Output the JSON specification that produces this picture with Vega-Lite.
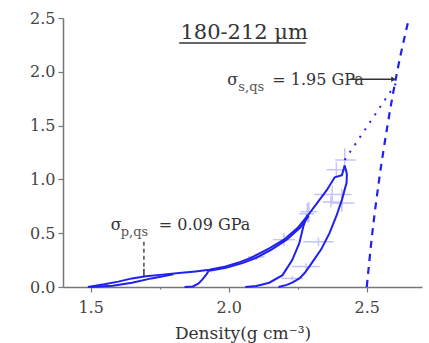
{
  "$schema": "https://vega.github.io/schema/vega-lite/v6.json",
  "width": 359,
  "height": 269,
  "autosize": {"type": "none"},
  "padding": {"left": 63, "top": 18, "right": 7, "bottom": 56},
  "background": "white",
  "config": {"view": {"stroke": null}, "font": "DejaVu Serif"},
  "datasets": {
    "curves": [
      {"s": "load", "o": 1, "d": 1.49, "p": 0},
      {"s": "load", "o": 2, "d": 1.55, "p": 0.025},
      {"s": "load", "o": 3, "d": 1.6, "p": 0.05},
      {"s": "load", "o": 4, "d": 1.65, "p": 0.08},
      {"s": "load", "o": 5, "d": 1.7, "p": 0.1},
      {"s": "load", "o": 6, "d": 1.76, "p": 0.115},
      {"s": "load", "o": 7, "d": 1.82, "p": 0.13},
      {"s": "load", "o": 8, "d": 1.88, "p": 0.145},
      {"s": "load", "o": 9, "d": 1.93, "p": 0.16},
      {"s": "load", "o": 10, "d": 1.98, "p": 0.185},
      {"s": "load", "o": 11, "d": 2.04, "p": 0.23},
      {"s": "load", "o": 12, "d": 2.08, "p": 0.27},
      {"s": "load", "o": 13, "d": 2.147, "p": 0.36},
      {"s": "load", "o": 14, "d": 2.2, "p": 0.44},
      {"s": "load", "o": 15, "d": 2.25, "p": 0.55},
      {"s": "load", "o": 16, "d": 2.285, "p": 0.66},
      {"s": "load", "o": 17, "d": 2.32, "p": 0.78},
      {"s": "load", "o": 18, "d": 2.355, "p": 0.9},
      {"s": "load", "o": 19, "d": 2.384, "p": 1.02},
      {"s": "load", "o": 20, "d": 2.41, "p": 1.04},
      {"s": "load", "o": 21, "d": 2.42, "p": 1.13},
      {"s": "start", "o": 1, "d": 1.5, "p": 0},
      {"s": "start", "o": 2, "d": 1.58, "p": 0.012},
      {"s": "start", "o": 3, "d": 1.65, "p": 0.04},
      {"s": "start", "o": 4, "d": 1.72, "p": 0.08},
      {"s": "start", "o": 5, "d": 1.8, "p": 0.118},
      {"s": "unload1", "o": 1, "d": 1.93, "p": 0.16},
      {"s": "unload1", "o": 2, "d": 1.92, "p": 0.12},
      {"s": "unload1", "o": 3, "d": 1.905, "p": 0.07},
      {"s": "unload1", "o": 4, "d": 1.89, "p": 0.03},
      {"s": "unload1", "o": 5, "d": 1.87, "p": 0.005},
      {"s": "unload1", "o": 6, "d": 1.84, "p": 0},
      {"s": "reload1", "o": 1, "d": 1.93, "p": 0.152},
      {"s": "reload1", "o": 2, "d": 1.99, "p": 0.178},
      {"s": "reload1", "o": 3, "d": 2.05, "p": 0.222},
      {"s": "reload1", "o": 4, "d": 2.1, "p": 0.272},
      {"s": "reload1", "o": 5, "d": 2.155, "p": 0.348},
      {"s": "reload1", "o": 6, "d": 2.21, "p": 0.44},
      {"s": "reload1", "o": 7, "d": 2.26, "p": 0.555},
      {"s": "reload1", "o": 8, "d": 2.29, "p": 0.66},
      {"s": "unload2", "o": 1, "d": 2.285, "p": 0.67},
      {"s": "unload2", "o": 2, "d": 2.27, "p": 0.56},
      {"s": "unload2", "o": 3, "d": 2.256, "p": 0.41},
      {"s": "unload2", "o": 4, "d": 2.23, "p": 0.25},
      {"s": "unload2", "o": 5, "d": 2.195, "p": 0.11},
      {"s": "unload2", "o": 6, "d": 2.147, "p": 0.04},
      {"s": "unload2", "o": 7, "d": 2.1, "p": 0.01},
      {"s": "unload2", "o": 8, "d": 2.06, "p": 0},
      {"s": "unload3", "o": 1, "d": 2.42, "p": 1.13},
      {"s": "unload3", "o": 2, "d": 2.428, "p": 1.05},
      {"s": "unload3", "o": 3, "d": 2.427, "p": 0.97},
      {"s": "unload3", "o": 4, "d": 2.41, "p": 0.81},
      {"s": "unload3", "o": 5, "d": 2.39, "p": 0.66},
      {"s": "unload3", "o": 6, "d": 2.365, "p": 0.5},
      {"s": "unload3", "o": 7, "d": 2.335, "p": 0.35},
      {"s": "unload3", "o": 8, "d": 2.3, "p": 0.22},
      {"s": "unload3", "o": 9, "d": 2.275, "p": 0.13},
      {"s": "unload3", "o": 10, "d": 2.256, "p": 0.08},
      {"s": "unload3", "o": 11, "d": 2.23, "p": 0.04},
      {"s": "unload3", "o": 12, "d": 2.21, "p": 0.02},
      {"s": "unload3", "o": 13, "d": 2.18, "p": 0}
    ],
    "dashed": [
      {"o": 1, "d": 2.5, "p": 0},
      {"o": 2, "d": 2.52, "p": 0.5},
      {"o": 3, "d": 2.545, "p": 1.0},
      {"o": 4, "d": 2.575, "p": 1.5},
      {"o": 5, "d": 2.61, "p": 2.0},
      {"o": 6, "d": 2.653, "p": 2.5}
    ],
    "dotted": [
      {"o": 1, "d": 2.42, "p": 1.18},
      {"o": 2, "d": 2.605, "p": 1.89}
    ],
    "errors": [
      {"d": 2.42, "p": 1.18, "dlo": 2.385, "dhi": 2.46, "plo": 1.08, "phi": 1.29},
      {"d": 2.39, "p": 1.09, "dlo": 2.355, "dhi": 2.43, "plo": 1.02, "phi": 1.16},
      {"d": 2.41, "p": 0.78, "dlo": 2.37, "dhi": 2.455, "plo": 0.7, "phi": 0.91},
      {"d": 2.375, "p": 0.86, "dlo": 2.31, "dhi": 2.445, "plo": 0.78, "phi": 0.94},
      {"d": 2.37, "p": 0.79, "dlo": 2.34, "dhi": 2.4, "plo": 0.74, "phi": 0.84},
      {"d": 2.285, "p": 0.68, "dlo": 2.256, "dhi": 2.31, "plo": 0.6, "phi": 0.78},
      {"d": 2.29, "p": 0.7, "dlo": 2.26, "dhi": 2.32, "plo": 0.6, "phi": 0.79},
      {"d": 2.325, "p": 0.42, "dlo": 2.27, "dhi": 2.38, "plo": 0.38, "phi": 0.46},
      {"d": 2.28, "p": 0.19, "dlo": 2.23, "dhi": 2.33, "plo": 0.16, "phi": 0.22},
      {"d": 2.23, "p": 0.08, "dlo": 2.19, "dhi": 2.27, "plo": 0.06, "phi": 0.1},
      {"d": 2.2, "p": 0.44, "dlo": 2.16, "dhi": 2.24, "plo": 0.38, "phi": 0.5},
      {"d": 2.1, "p": 0.28, "dlo": 2.07, "dhi": 2.13, "plo": 0.25, "phi": 0.31}
    ],
    "texts": [
      {"k": "title", "t": "180-212 μm", "d": 2.056, "p": 2.36},
      {"k": "sig", "t": "σ", "d": 1.995, "p": 1.924},
      {"k": "sub", "t": "s,qs", "d": 2.035, "p": 1.855},
      {"k": "rest", "t": "= 1.95 GPa", "d": 2.158, "p": 1.924},
      {"k": "sig", "t": "σ", "d": 1.573, "p": 0.576},
      {"k": "sub", "t": "p,qs", "d": 1.609, "p": 0.507},
      {"k": "rest", "t": "= 0.09 GPa", "d": 1.747, "p": 0.576}
    ]
  },
  "layer": [
    {
      "data": {"name": "errors"},
      "mark": {"type": "rule", "color": "#c4c4f6", "strokeWidth": 1.5},
      "encoding": {
        "x": {"field": "dlo", "type": "quantitative", "scale": {"domain": [1.4, 2.7], "nice": false, "zero": false},
          "axis": {"values": [1.5, 1.75, 2.0, 2.25, 2.5], "labelExpr": "datum.value * 2 % 1 == 0 ? format(datum.value, '.1f') : ''", "grid": false,
            "title": "Density(g cm⁻³)", "titleFont": "DejaVu Serif", "titleFontSize": 17, "titleFontWeight": "normal", "titleColor": "#333", "titlePadding": 10,
            "labelFont": "DejaVu Serif", "labelFontSize": 16, "labelColor": "#444", "labelPadding": 7,
            "domainColor": "#777", "domainWidth": 1.5, "tickColor": "#777", "tickWidth": 1.2,
            "tickSize": {"condition": {"test": "datum.value * 2 % 1 != 0", "value": 2}, "value": 5}}},
        "x2": {"field": "dhi"},
        "y": {"field": "p", "type": "quantitative", "scale": {"domain": [0, 2.5], "nice": false},
          "axis": {"values": [0, 0.25, 0.5, 0.75, 1.0, 1.25, 1.5, 1.75, 2.0, 2.25, 2.5], "labelExpr": "datum.value * 2 % 1 == 0 ? format(datum.value, '.1f') : ''", "grid": false, "title": null,
            "labelFont": "DejaVu Serif", "labelFontSize": 16, "labelColor": "#444", "labelPadding": 3,
            "domainColor": "#777", "domainWidth": 1.5, "tickColor": "#777", "tickWidth": 1.2,
            "tickSize": {"condition": {"test": "datum.value * 2 % 1 != 0", "value": 2}, "value": 5}}}
      }
    },
    {
      "data": {"name": "errors"},
      "mark": {"type": "rule", "color": "#c4c4f6", "strokeWidth": 1.5},
      "encoding": {
        "x": {"field": "d", "type": "quantitative"},
        "y": {"field": "plo", "type": "quantitative"},
        "y2": {"field": "phi"}
      }
    },
    {
      "data": {"name": "curves"},
      "mark": {"type": "line", "color": "#2020f0", "strokeWidth": 2},
      "encoding": {
        "x": {"field": "d", "type": "quantitative"},
        "y": {"field": "p", "type": "quantitative"},
        "detail": {"field": "s"},
        "order": {"field": "o"}
      }
    },
    {
      "data": {"name": "dashed"},
      "mark": {"type": "line", "color": "#2020f0", "strokeWidth": 2.2, "strokeDash": [7, 6], "interpolate": "monotone"},
      "encoding": {
        "x": {"field": "d", "type": "quantitative"},
        "y": {"field": "p", "type": "quantitative"},
        "order": {"field": "o"}
      }
    },
    {
      "data": {"name": "dotted"},
      "mark": {"type": "line", "color": "#2020f0", "strokeWidth": 2, "strokeDash": [2, 7]},
      "encoding": {
        "x": {"field": "d", "type": "quantitative"},
        "y": {"field": "p", "type": "quantitative"},
        "order": {"field": "o"}
      }
    },
    {
      "data": {"values": [{"d1": 1.821, "d2": 2.279, "p": 2.268}]},
      "mark": {"type": "rule", "color": "#333", "strokeWidth": 1.5},
      "encoding": {
        "x": {"field": "d1", "type": "quantitative"},
        "x2": {"field": "d2"},
        "y": {"field": "p", "type": "quantitative"}
      }
    },
    {
      "data": {"values": [{"d1": 2.44, "d2": 2.595, "p": 1.93}]},
      "mark": {"type": "rule", "color": "#333", "strokeWidth": 1.5},
      "encoding": {
        "x": {"field": "d1", "type": "quantitative"},
        "x2": {"field": "d2"},
        "y": {"field": "p", "type": "quantitative"}
      }
    },
    {
      "data": {"values": [{"d": 2.597, "p": 1.93}]},
      "mark": {"type": "point", "shape": "triangle-right", "filled": true, "color": "#333", "size": 30, "opacity": 1},
      "encoding": {
        "x": {"field": "d", "type": "quantitative"},
        "y": {"field": "p", "type": "quantitative"}
      }
    },
    {
      "data": {"values": [{"d": 1.693, "p1": 0.42, "p2": 0.17}]},
      "mark": {"type": "rule", "color": "#333", "strokeWidth": 1.3, "strokeDash": [4, 3]},
      "encoding": {
        "x": {"field": "d", "type": "quantitative"},
        "y": {"field": "p1", "type": "quantitative"},
        "y2": {"field": "p2"}
      }
    },
    {
      "data": {"values": [{"d": 1.693, "p1": 0.17, "p2": 0.1}]},
      "mark": {"type": "rule", "color": "#333", "strokeWidth": 1.5},
      "encoding": {
        "x": {"field": "d", "type": "quantitative"},
        "y": {"field": "p1", "type": "quantitative"},
        "y2": {"field": "p2"}
      }
    },
    {
      "data": {"name": "texts"},
      "transform": [{"filter": "datum.k == 'title'"}],
      "mark": {"type": "text", "font": "DejaVu Serif", "fontSize": 21, "color": "#333", "align": "center", "baseline": "middle"},
      "encoding": {
        "x": {"field": "d", "type": "quantitative"},
        "y": {"field": "p", "type": "quantitative"},
        "text": {"field": "t"}
      }
    },
    {
      "data": {"name": "texts"},
      "transform": [{"filter": "datum.k == 'sig'"}],
      "mark": {"type": "text", "font": "DejaVu Serif", "fontSize": 16, "color": "#333", "align": "left", "baseline": "middle"},
      "encoding": {
        "x": {"field": "d", "type": "quantitative"},
        "y": {"field": "p", "type": "quantitative"},
        "text": {"field": "t"}
      }
    },
    {
      "data": {"name": "texts"},
      "transform": [{"filter": "datum.k == 'sub'"}],
      "mark": {"type": "text", "font": "DejaVu Serif", "fontSize": 13, "color": "#555", "align": "left", "baseline": "middle"},
      "encoding": {
        "x": {"field": "d", "type": "quantitative"},
        "y": {"field": "p", "type": "quantitative"},
        "text": {"field": "t"}
      }
    },
    {
      "data": {"name": "texts"},
      "transform": [{"filter": "datum.k == 'rest'"}],
      "mark": {"type": "text", "font": "DejaVu Serif", "fontSize": 16, "color": "#333", "align": "left", "baseline": "middle"},
      "encoding": {
        "x": {"field": "d", "type": "quantitative"},
        "y": {"field": "p", "type": "quantitative"},
        "text": {"field": "t"}
      }
    }
  ]
}
